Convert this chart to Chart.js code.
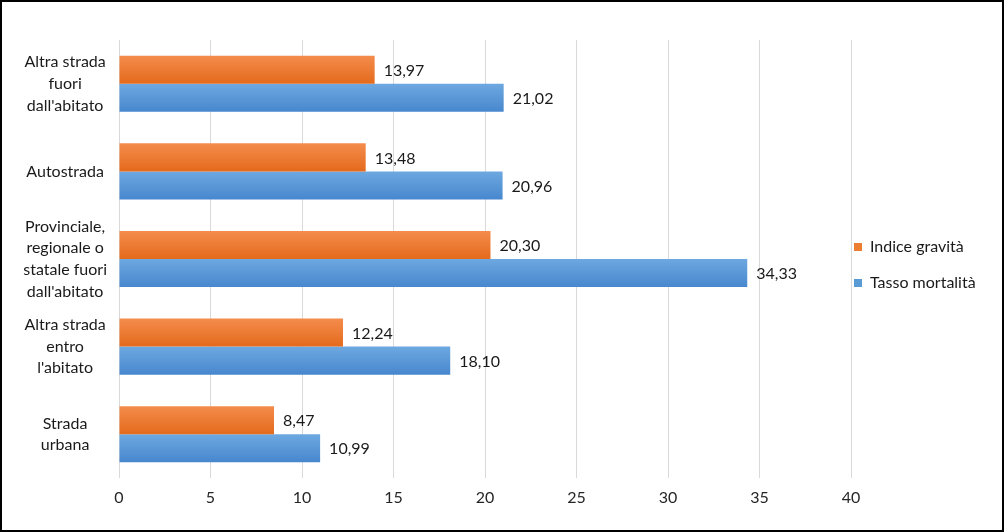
<!DOCTYPE html>
<html>
<head>
<meta charset="utf-8">
<script src="https://cdn.jsdelivr.net/npm/chart.js@4"></script>
<style>
  html, body { margin: 0; padding: 0; background: #fff; }
  #wrap { width: 1004px; height: 532px; box-sizing: border-box; border: 2px solid #000; background: #fff; }
  #chart { display: block; }
</style>
</head>
<body>
<div id="wrap"><canvas id="chart" width="1000" height="528"></canvas></div>
<script>
const categories = [
    ['Altra strada', 'fuori', "dall'abitato"],
    'Autostrada',
    ['Provinciale,', 'regionale o', 'statale fuori', "dall'abitato"],
    ['Altra strada', 'entro', "l'abitato"],
    ['Strada', 'urbana']
];
const indiceGravita = [13.97, 13.48, 20.30, 12.24, 8.47];
const tassoMortalita = [21.02, 20.96, 34.33, 18.10, 10.99];
const xTicks = [0, 5, 10, 15, 20, 25, 30, 35, 40];

const FONT = 'Lato, "Open Sans", sans-serif';
const CAT_PCT = 0.64;

// vertical gradient per bar, like the Excel fill
const barFill = (top, bottom) => (context) => {
    const chart = context.chart;
    const yScale = chart.scales.y;
    if (!yScale || context.dataIndex === undefined) return bottom;
    const band = (yScale.bottom - yScale.top) / categories.length;
    const h = band * CAT_PCT / 2;
    const c = yScale.getPixelForValue(context.dataIndex);
    const y0 = context.datasetIndex === 0 ? c - h : c;
    const g = chart.ctx.createLinearGradient(0, y0, 0, y0 + h);
    g.addColorStop(0, top);
    g.addColorStop(1, bottom);
    return g;
};

const valueLabels = {
    id: 'valueLabels',
    afterDatasetsDraw(chart) {
        const ctx = chart.ctx;
        ctx.save();
        ctx.font = '16px ' + FONT;
        ctx.fillStyle = '#1a1a1a';
        ctx.textBaseline = 'middle';
        ctx.textAlign = 'left';
        chart.data.datasets.forEach((ds, i) => {
            chart.getDatasetMeta(i).data.forEach((bar, j) => {
                const txt = ds.data[j].toFixed(2).replace('.', ',');
                ctx.fillText(txt, bar.x + 9, bar.y + 1);
            });
        });
        ctx.restore();
    }
};

// fix the legend's width so the 40 gridline lands where it does in the original
const legendWidth = {
    id: 'legendWidth',
    beforeLayout(chart) {
        const l = chart.legend;
        if (l && !l._fitPatched) {
            const fit = l.fit.bind(l);
            l.fit = function () { fit(); this.width = 151; };
            l._fitPatched = true;
        }
    }
};

// pull the legend a little closer to the plot and up
const legendShift = {
    id: 'legendShift',
    afterLayout(chart) {
        const l = chart.legend;
        const dx = 852 - 20 - l.left;
        l.left += dx;
        l.right += dx;
        l.top -= 8;
        l.bottom -= 8;
    }
};

new Chart(document.getElementById('chart'), {
    type: 'bar',
    data: {
        labels: categories,
        datasets: [
            {
                label: 'Indice gravità',
                data: indiceGravita,
                backgroundColor: barFill('#F48C4C', '#E46A1C')
            },
            {
                label: 'Tasso mortalità',
                data: tassoMortalita,
                backgroundColor: barFill('#6DA8E0', '#4787CE')
            }
        ]
    },
    options: {
        indexAxis: 'y',
        responsive: false,
        animation: false,
        datasets: {
            bar: { categoryPercentage: CAT_PCT, barPercentage: 1 }
        },
        layout: {
            padding: { top: 38, left: 17, right: 0, bottom: 24 }
        },
        scales: {
            x: {
                min: 0,
                max: 40,
                afterBuildTicks: (scale) => {
                    scale.ticks = xTicks.map(v => ({ value: v }));
                },
                afterFit: (scale) => { scale.height = 28; },
                border: { display: false },
                grid: { color: '#D9D9D9', lineWidth: 1, drawTicks: false },
                ticks: {
                    padding: 10,
                    color: '#262626',
                    font: { family: FONT, size: 16 }
                }
            },
            y: {
                afterFit: (scale) => { scale.width = 100; },
                border: { display: false },
                grid: { display: false, drawTicks: false },
                ticks: {
                    autoSkip: false,
                    padding: 12,
                    crossAlign: 'center',
                    color: '#1a1a1a',
                    font: { family: FONT, size: 16, lineHeight: 1.35 }
                }
            }
        },
        plugins: {
            tooltip: { enabled: false },
            legend: {
                position: 'right',
                align: 'center',
                labels: {
                    boxWidth: 8,
                    boxHeight: 8,
                    padding: 20,
                    color: '#1a1a1a',
                    font: { family: FONT, size: 16 },
                    generateLabels: (chart) => chart.data.datasets.map((ds, i) => ({
                        text: ds.label,
                        fillStyle: i === 0 ? '#ED7D31' : '#5B9BD5',
                        strokeStyle: 'transparent',
                        lineWidth: 0,
                        datasetIndex: i,
                        fontColor: '#1a1a1a'
                    }))
                }
            }
        }
    },
    plugins: [valueLabels, legendWidth, legendShift]
});
</script>
</body>
</html>
